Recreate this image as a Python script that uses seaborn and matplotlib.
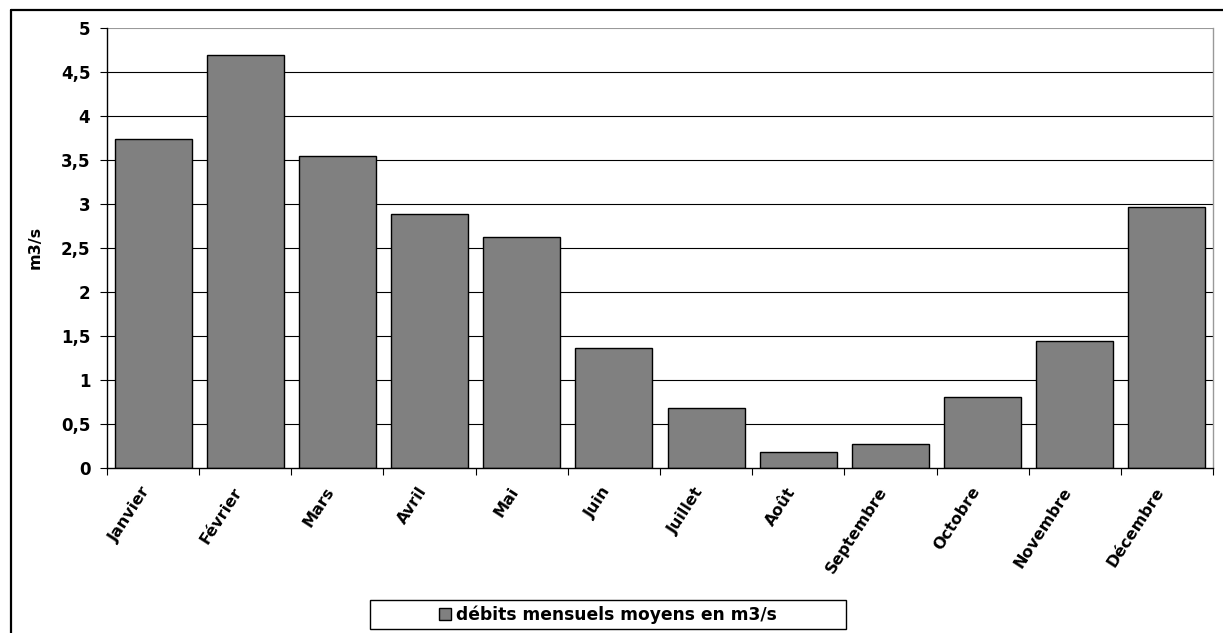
import matplotlib

matplotlib.use("Agg")
import matplotlib.pyplot as plt
import numpy as np
import pandas as pd
import seaborn as sns
from matplotlib.lines import Line2D
from matplotlib.patches import Rectangle
from matplotlib.ticker import FuncFormatter

# Data
months = [
    "Janvier", "Février", "Mars", "Avril", "Mai", "Juin",
    "Juillet", "Août", "Septembre", "Octobre", "Novembre", "Décembre",
]
flows = [3.74, 4.69, 3.54, 2.89, 2.62, 1.36, 0.68, 0.18, 0.27, 0.80, 1.44, 2.97]
series_label = "débits mensuels moyens en m3/s"
y_ticks = [0, 0.5, 1, 1.5, 2, 2.5, 3, 3.5, 4, 4.5, 5]

sns.set_theme(style="white")
plt.rcParams["font.family"] = ["DejaVu Sans"]
plt.rcParams["font.weight"] = "bold"
plt.rcParams["text.color"] = "black"
plt.rcParams["axes.labelcolor"] = "black"
plt.rcParams["xtick.color"] = "black"
plt.rcParams["ytick.color"] = "black"

W, H = 1223, 633
figure = plt.figure(figsize=(W / 100, H / 100), dpi=100)
axis = figure.add_axes([107 / W, 1 - 467.7 / H, (1213 - 107) / W, (467.7 - 28) / H])

# Horizontal grid lines drawn behind the bars
for tick in y_ticks[1:]:
    axis.axhline(tick, color="#999999" if tick == y_ticks[-1] else "black",
                 linewidth=0.8, zorder=0)

dataframe = pd.DataFrame({"mois": months, "debit": flows})
sns.barplot(
    data=dataframe,
    x="mois",
    y="debit",
    color="#808080",
    saturation=1,
    width=0.835,
    edgecolor="black",
    linewidth=1.0,
    label=series_label,
    ax=axis,
    zorder=2,
)

axis.set_xlim(-0.5, len(months) - 0.5)
axis.set_ylim(0, 5)
axis.set_yticks(y_ticks)
axis.yaxis.set_major_formatter(
    FuncFormatter(lambda v, _: f"{v:g}".replace(".", ","))
)

for side in ["left", "bottom"]:
    axis.spines[side].set_color("black")
    axis.spines[side].set_linewidth(1.0)
axis.spines["right"].set_color("#999999")
axis.spines["right"].set_linewidth(1.0)
axis.spines["top"].set_visible(False)

axis.tick_params(axis="y", left=True, length=5, width=0.8, color="black",
                 pad=7, labelsize=12)
axis.set_xticks(np.arange(len(months)))
axis.set_xticklabels(months, rotation=57, ha="right", rotation_mode="default",
                     fontsize=11.5, fontweight="bold")
axis.tick_params(axis="x", which="major", length=0, pad=12)
axis.set_xticks(np.arange(-0.5, len(months)), minor=True)
axis.tick_params(axis="x", which="minor", bottom=True, length=5, width=0.8,
                 color="black")

axis.set_xlabel("")
axis.set_ylabel("m3/s", fontsize=11.5, fontweight="bold")
axis.yaxis.set_label_coords((43 - 107) / (1213 - 107), 0.5)

# Legend box below the chart
if axis.legend_:
    axis.legend_.remove()
handles, labels = axis.get_legend_handles_labels()
figure.add_artist(Rectangle((370 / W, 1 - 629 / H), 476 / W, 29 / H,
                            transform=figure.transFigure, facecolor="white",
                            edgecolor="black", linewidth=1.0))
figure.legend(
    handles[:1], [series_label],
    loc="center",
    bbox_to_anchor=(608 / W, 1 - 614.5 / H),
    frameon=False,
    handlelength=0.7,
    handleheight=0.7,
    handletextpad=0.3,
    prop={"size": 12.3, "weight": "bold"},
)

# Outer chart frame
figure.add_artist(Line2D([11 / W, 11 / W], [0, 1 - 10 / H],
                         transform=figure.transFigure, color="black", linewidth=1.6))
figure.add_artist(Line2D([11 / W, 1], [1 - 10 / H, 1 - 10 / H],
                         transform=figure.transFigure, color="black", linewidth=1.6))

figure.savefig("out.png", dpi=100, facecolor="white")
plt.close()
